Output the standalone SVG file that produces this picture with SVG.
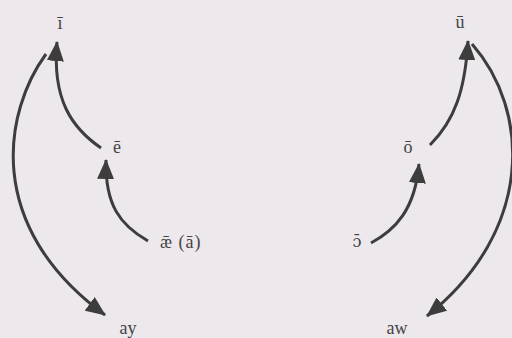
<svg xmlns="http://www.w3.org/2000/svg" width="512" height="338" viewBox="0 0 512 338">
<style>
.lbl{font-family:"Liberation Serif","DejaVu Serif",serif;font-size:18px;fill:#444;}
.dj{font-family:"DejaVu Serif",serif;font-size:16px;}
.c{fill:none;stroke:#3d3d3d;stroke-width:3;}
</style>
<defs>
<marker id="ah" viewBox="0 0 20 17" refX="19" refY="8.5" markerWidth="20" markerHeight="17" markerUnits="userSpaceOnUse" orient="auto">
<path d="M0,0 L20,8.5 L0,17 z" fill="#3d3d3d"/>
</marker>
</defs>
<rect x="0" y="0" width="512" height="338" fill="#ece8ec"/>
<g id="connectors">
<path class="c" d="M101 148 C72 128 52 100 57 42" marker-end="url(#ah)"/>
<path class="c" d="M46 54 C5 110 -18 225 105 315" marker-end="url(#ah)"/>
<path class="c" d="M148 241 C120 225 105 205 106 160" marker-end="url(#ah)"/>
<path class="c" d="M371 243 C395 230 415 210 419 164" marker-end="url(#ah)"/>
<path class="c" d="M430 145 C455 120 465 90 468 41" marker-end="url(#ah)"/>
<path class="c" d="M472 44 C530 110 535 230 427 316" marker-end="url(#ah)"/>
</g>
<g id="n-i"><text class="lbl" x="60" y="29" text-anchor="middle">ī</text></g>
<g id="n-e"><text class="lbl" x="117" y="153" text-anchor="middle">ē</text></g>
<g id="n-ae"><text class="lbl" x="160" y="248" letter-spacing="1">ǣ (ā)</text></g>
<g id="n-ay"><text class="lbl" x="128" y="334" text-anchor="middle">ay</text></g>
<g id="n-u"><text class="lbl" x="460" y="28" text-anchor="middle">ū</text></g>
<g id="n-o"><text class="lbl" x="408" y="153" text-anchor="middle">ō</text></g>
<g id="n-oo"><text class="lbl dj" x="357" y="247" text-anchor="middle">ɔ̄</text></g>
<g id="n-aw"><text class="lbl" x="397" y="334" text-anchor="middle">aw</text></g>
</svg>
